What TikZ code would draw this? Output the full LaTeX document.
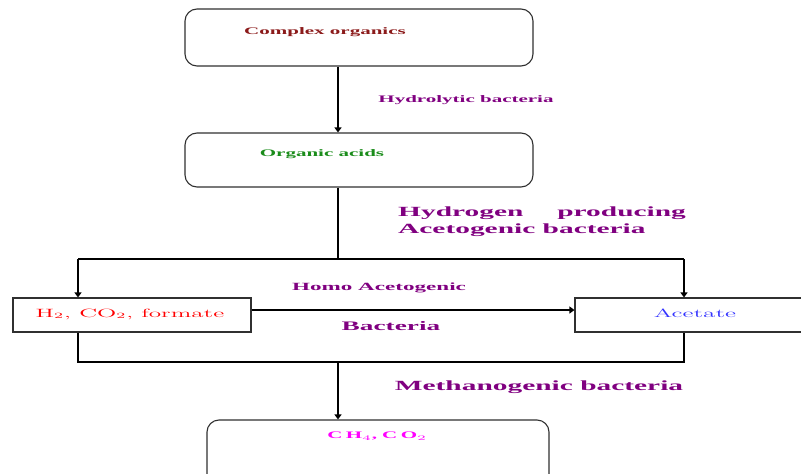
\documentclass[tikz,border=0pt]{standalone}
\usepackage{fontspec}
\usepackage{graphicx}
\usetikzlibrary{arrows.meta}
\newfontfamily\lblfont{Liberation Serif}
% wide lettering used throughout the chart
\newcommand{\wide}[1]{\scalebox{2.1}[1]{#1}}
\definecolor{darkred}{HTML}{8B1A1A}
\definecolor{leafgreen}{HTML}{1A8C1A}
\definecolor{plum}{HTML}{800080}
\definecolor{brightblue}{HTML}{3333FF}
\definecolor{pinkish}{HTML}{FF00FF}
\definecolor{edgegray}{HTML}{303030}
\tikzset{
  roundbox/.style={draw=edgegray, line width=1.1pt, rounded corners=12pt, inner sep=0pt},
  flatbox/.style={draw=edgegray, line width=1.1pt, inner sep=0pt},
  link/.style={draw=black, line width=1.1pt},
  arrowlink/.style={link, -{Triangle[width=7pt,length=5pt]}},
  bold label/.style={inner sep=0pt, font=\lblfont\bfseries},
  plain label/.style={inner sep=0pt},
}
\begin{document}
\begin{tikzpicture}[x=1pt,y=-1pt]
\useasboundingbox (0,0) rectangle (801,474);
\clip (0,0) rectangle (801,474);

% boxes
\node[roundbox, minimum width=348pt, minimum height=57pt] (top) at (359,37.5) {};
\node[roundbox, minimum width=348pt, minimum height=54pt] (mid) at (359,160) {};
\node[flatbox, minimum width=238pt, minimum height=34pt] (left) at (132,315) {};
\node[flatbox, minimum width=240pt, minimum height=34pt] (right) at (695,315) {};
\node[roundbox, minimum width=342pt, minimum height=70pt] (bot) at (378,455) {};

% junction points
\coordinate (spine) at (338,0);
\coordinate (jL) at (78,259);
\coordinate (jR) at (684,259);
\coordinate (mL) at (78,362);
\coordinate (mR) at (684,362);
\coordinate (cross) at (0,310);

% connectors
\draw[arrowlink] (top.south -| spine) -- (mid.north -| spine);
\draw[link] (mid.south -| spine) -- (spine |- jL);
\draw[link] (jL) -- (jR);
\draw[arrowlink] (jL) -- (left.north -| jL);
\draw[arrowlink] (jR) -- (right.north -| jR);
\draw[arrowlink] (left.east |- cross) -- (right.west |- cross);
\draw[link] (left.south -| mL) -- (mL) -- (mR) -- (right.south -| mR);
\draw[arrowlink] (spine |- mL) -- (bot.north -| spine);

% box texts
\node[bold label, text=darkred, font=\lblfont\bfseries\fontsize{10}{12}\selectfont] (t1) at (325,32) {\wide{Complex organics}};
\node[bold label, text=leafgreen, font=\lblfont\bfseries\fontsize{10}{12}\selectfont] (t2) at (322,154) {\wide{Organic acids}};
\node[plain label, text=red, font=\fontsize{12}{14}\selectfont] (t3) at (130,314) {\wide{H$_2$, CO$_2$, formate}};
\node[plain label, text=brightblue, font=\fontsize{12}{14}\selectfont] (t4) at (695,313) {\wide{Acetate}};
\node[bold label, text=pinkish, font=\lblfont\bfseries\fontsize{10}{12}\selectfont] (t5) at (377,436) {\wide{C\,H$_4$, C\,O$_2$}};

% bacteria labels
\node[bold label, text=plum, font=\lblfont\bfseries\fontsize{10}{12}\selectfont] (b1) at (466,100) {\wide{Hydrolytic bacteria}};
\node[bold label, text=plum, font=\lblfont\bfseries\fontsize{14}{17}\selectfont, anchor=north west] (b2) at (398,204)
  {\wide{\begin{tabular}{@{}l@{}}\makebox[137pt][s]{Hydrogen\hfill producing}\\Acetogenic bacteria\end{tabular}}};
\node[bold label, text=plum, font=\lblfont\bfseries\fontsize{11}{13}\selectfont] (b3) at (379,288) {\wide{Homo Acetogenic}};
\node[bold label, text=plum, font=\lblfont\bfseries\fontsize{13}{15}\selectfont] (b4) at (391,326) {\wide{Bacteria}};
\node[bold label, text=plum, font=\lblfont\bfseries\fontsize{14}{17}\selectfont] (b5) at (539,387) {\wide{Methanogenic bacteria}};
\end{tikzpicture}
\end{document}
